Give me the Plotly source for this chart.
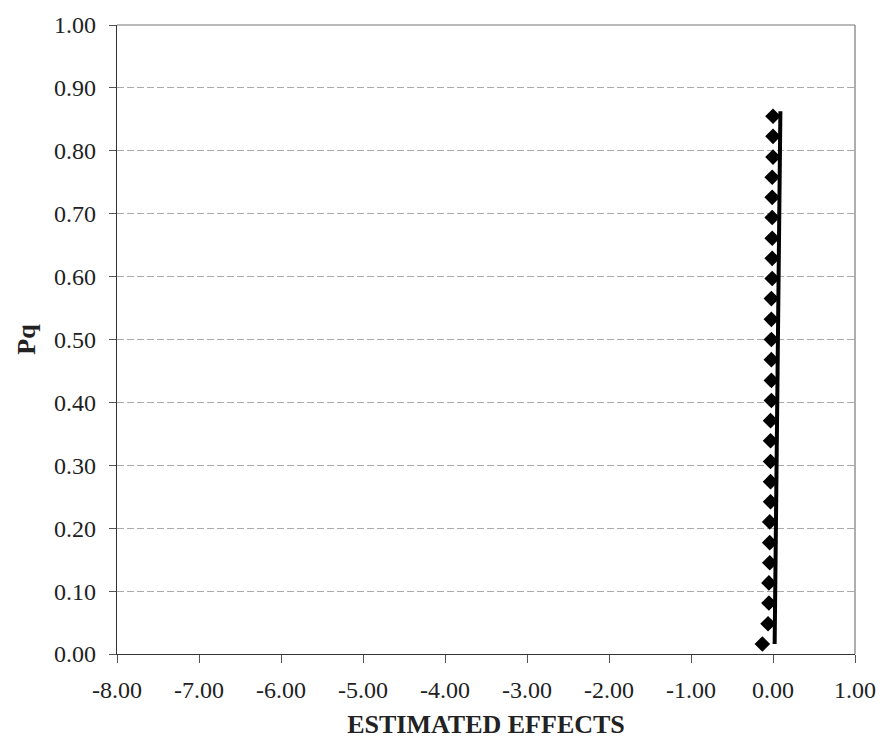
import plotly.graph_objects as go

# Estimated effects (x) and cumulative probability Pq (y)
effects = [-0.13, -0.06, -0.05, -0.05, -0.04, -0.04, -0.04, -0.03, -0.03,
           -0.03, -0.03, -0.03, -0.02, -0.02, -0.02, -0.02, -0.02, -0.02,
           -0.01, -0.01, -0.01, -0.01, -0.01, -0.01, 0.00, 0.00, 0.00]
pq = [0.016, 0.048, 0.081, 0.113, 0.145, 0.177, 0.210, 0.242, 0.274,
      0.306, 0.339, 0.371, 0.403, 0.435, 0.468, 0.500, 0.532, 0.565,
      0.597, 0.629, 0.661, 0.694, 0.726, 0.758, 0.790, 0.823, 0.855]

# Fitted reference line
line_x = [0.02, 0.09]
line_y = [0.016, 0.863]

x_ticks = [-8, -7, -6, -5, -4, -3, -2, -1, 0, 1]
x_labels = ["-8.00", "-7.00", "-6.00", "-5.00", "-4.00", "-3.00", "-2.00",
            "-1.00", "0.00", "1.00"]
y_ticks = [0.0, 0.1, 0.2, 0.3, 0.4, 0.5, 0.6, 0.7, 0.8, 0.9, 1.0]
y_labels = ["0.00", "0.10", "0.20", "0.30", "0.40", "0.50", "0.60", "0.70",
            "0.80", "0.90", "1.00"]

font_family = "Liberation Serif"

fig = go.Figure()
fig.add_trace(go.Scatter(
    x=effects, y=pq, mode="markers",
    marker=dict(symbol="diamond", size=12, color="black"),
    showlegend=False))
fig.add_trace(go.Scatter(
    x=line_x, y=line_y, mode="lines",
    line=dict(color="black", width=4), showlegend=False, hoverinfo="skip"))

fig.update_layout(
    width=888, height=752,
    margin=dict(l=117, r=29, t=20, b=98),
    paper_bgcolor="white", plot_bgcolor="white",
    font=dict(family=font_family, size=24, color="#222"),
    shapes=[
        dict(type="line", xref="paper", yref="paper", x0=0, x1=1, y0=1, y1=1,
             line=dict(color="#777", width=1.2)),
        dict(type="line", xref="paper", yref="paper", x0=1, x1=1, y0=0, y1=1,
             line=dict(color="#777", width=1.2)),
    ],
)
fig.update_xaxes(
    range=[-8, 1], tickvals=x_ticks, ticktext=x_labels,
    showgrid=False, zeroline=False,
    showline=True, linecolor="#333", linewidth=1.3,
    ticks="outside", ticklen=8, tickcolor="#555",
    ticklabelstandoff=6,
    title=dict(text="<b>ESTIMATED EFFECTS</b>", font=dict(size=26, color="#222"), standoff=12),
)
fig.update_yaxes(
    range=[0, 1], tickvals=y_ticks, ticktext=y_labels,
    showgrid=True, gridcolor="#ababab", gridwidth=1, griddash="7px,3px",
    zeroline=False,
    showline=True, linecolor="#333", linewidth=1.3,
    ticks="outside", ticklen=7, tickcolor="#555",
    ticklabelstandoff=8,
    title=dict(text="<b>Pq</b>", font=dict(size=26, color="#222"), standoff=10),
)

fig.write_html("out.html")
